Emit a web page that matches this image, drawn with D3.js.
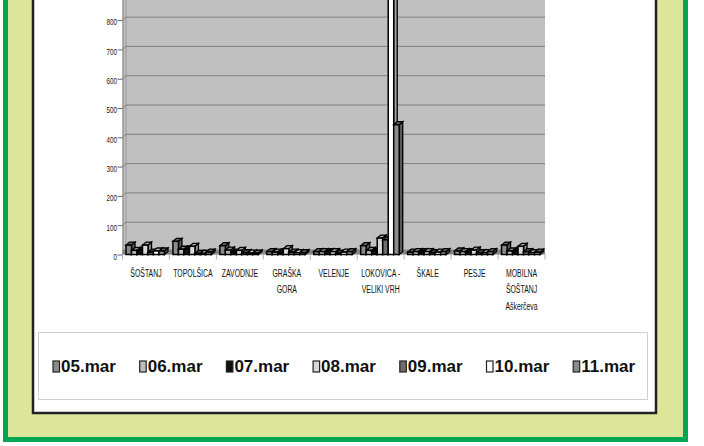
<!DOCTYPE html>
<html>
<head>
<meta charset="utf-8">
<script src="https://cdn.jsdelivr.net/npm/d3@7"></script>
<style>
  html, body { margin: 0; padding: 0; background: #fff; }
  svg { display: block; }
</style>
</head>
<body>
<svg id="chart" width="704" height="446"></svg>
<script>
// categories (stations) - label lines as shown under the axis
const categories = ["ŠOŠTANJ", "TOPOLŠICA", "ZAVODNJE", "GRAŠKA GORA", "VELENJE",
  "LOKOVICA - VELIKI VRH", "ŠKALE", "PESJE", "MOBILNA ŠOŠTANJ Aškerčeva"];
const categoryLines = [["ŠOŠTANJ"], ["TOPOLŠICA"], ["ZAVODNJE"], ["GRAŠKA", "GORA"], ["VELENJE"],
  ["LOKOVICA -", "VELIKI VRH"], ["ŠKALE"], ["PESJE"], ["MOBILNA", "ŠOŠTANJ", "Aškerčeva"]];

// one series per day
const seriesNames = ["05.mar", "06.mar", "07.mar", "08.mar", "09.mar", "10.mar", "11.mar"];
const mar05 = [32, 45, 30, 10, 10, 30, 8, 12, 32];
const mar06 = [14, 18, 15, 8, 10, 14, 10, 10, 12];
const mar07 = [14, 18, 8, 8, 10, 12, 10, 10, 12];
const mar08 = [32, 28, 14, 20, 10, 56, 10, 15, 28];
const mar09 = [8, 4, 6, 8, 5, 50, 6, 6, 10];
const mar10 = [12, 4, 5, 6, 8, 1000, 8, 6, 6];
const mar11 = [12, 8, 5, 6, 10, 443, 10, 10, 8];
const seriesValues = [mar05, mar06, mar07, mar08, mar09, mar10, mar11];

const yTicks = [0, 100, 200, 300, 400, 500, 600, 700, 800];

const seriesColors = ["#8c8c8c", "#bdbdbd", "#111111", "#d9d9d9", "#6e6e6e", "#ffffff", "#8a8a8a"];

function drawChart() {
    const svg = d3.select("#chart");

    // frame: green border, light green band, white panel
    svg.append("rect").attr("x", 3).attr("y", -10).attr("width", 685).attr("height", 452)
        .attr("fill", "#00a651");
    svg.append("rect").attr("x", 8).attr("y", -10).attr("width", 675).attr("height", 447)
        .attr("fill", "#dce69a");
    svg.append("rect").attr("x", 33).attr("y", -10).attr("width", 623).attr("height", 423)
        .attr("fill", "#fff").attr("stroke", "#222").attr("stroke-width", 2.5);

    // scales
    const plotLeft = 122.5, plotRight = 545;
    const y = d3.scaleLinear().domain([0, 900]).range([254.5, -9.2]);
    const x = d3.scaleBand().domain(categories).range([plotLeft, plotRight]).padding(0);
    const xs = d3.scaleBand().domain(seriesNames).range([3.5, 42]).padding(0);
    const dx = 3.5, dy = -3;

    // walls and floor
    svg.append("rect").attr("x", plotLeft).attr("y", -10)
        .attr("width", plotRight - plotLeft).attr("height", y(0) + 10)
        .attr("fill", "#c0c0c0");
    svg.append("line").attr("x1", plotLeft + dx).attr("x2", plotLeft + dx)
        .attr("y1", -10).attr("y2", y(0) + dy)
        .attr("stroke", "#9a9a9a").attr("stroke-width", 1);

    const grid = svg.append("g");
    yTicks.filter(d => d > 0).forEach(d => {
        grid.append("path")
            .attr("d", `M${plotLeft},${y(d)} L${plotLeft + dx},${y(d) + dy} L${plotRight},${y(d) + dy}`)
            .attr("fill", "none").attr("stroke", "#808080").attr("stroke-width", 1);
    });

    svg.append("rect").attr("x", plotLeft).attr("y", y(0) - 5)
        .attr("width", plotRight - plotLeft).attr("height", 5)
        .attr("fill", "#858585");

    // y axis
    const yAxis = svg.append("g")
        .attr("transform", `translate(${plotLeft},0)`)
        .call(d3.axisLeft(y).tickValues(yTicks).tickSize(5).tickSizeOuter(0).tickFormat(d => d));
    yAxis.select(".domain").attr("stroke", "#808080");
    yAxis.selectAll(".tick line").attr("stroke", "#666");
    yAxis.selectAll(".tick text")
        .attr("font-family", "'Liberation Sans', Arial, sans-serif")
        .attr("font-size", 9.6)
        .attr("fill", "#111")
        .attr("x", -8.5)
        .attr("dy", "0.5em")
        .attr("transform", "scale(0.65,1)");

    // category separators
    const sep = svg.append("g");
    categories.concat([null]).forEach((c, i) => {
        const xx = c === null ? plotRight : x(c);
        sep.append("line").attr("x1", xx).attr("x2", xx)
            .attr("y1", y(0)).attr("y2", y(0) + 5)
            .attr("stroke", "#b0b0b0").attr("stroke-width", 1);
    });

    // x labels
    const xl = svg.append("g")
        .attr("font-family", "'Liberation Sans', Arial, sans-serif")
        .attr("font-size", 11.5)
        .attr("fill", "#111");
    categories.forEach((c, i) => {
        const cx = x(c) + x.bandwidth() / 2;
        categoryLines[i].forEach((line, j) => {
            xl.append("text")
                .attr("text-anchor", "middle")
                .attr("transform", `translate(${cx},${276.7 + j * 16.7}) scale(0.6,1)`)
                .text(line);
        });
    });

    // 3D columns, drawn left to right
    const bars = svg.append("g");
    categories.forEach((c, ci) => {
        seriesNames.forEach((s, si) => {
            const v = seriesValues[si][ci];
            const x0 = x(c) + xs(s);
            const w = xs.bandwidth();
            const yt = y(v), yb = y(0);
            const col = d3.color(seriesColors[si]);
            // side face
            bars.append("path")
                .attr("d", `M${x0 + w},${yt} L${x0 + w + dx},${yt + dy} L${x0 + w + dx},${yb + dy} L${x0 + w},${yb} Z`)
                .attr("fill", col.darker(1.2))
                .attr("stroke", "#000").attr("stroke-width", 1.3);
            // top face
            bars.append("path")
                .attr("d", `M${x0},${yt} L${x0 + dx},${yt + dy} L${x0 + w + dx},${yt + dy} L${x0 + w},${yt} Z`)
                .attr("fill", col.darker(0.8))
                .attr("stroke", "#000").attr("stroke-width", 1.3);
            // front face
            bars.append("rect")
                .attr("x", x0).attr("y", yt)
                .attr("width", w).attr("height", yb - yt)
                .attr("fill", seriesColors[si])
                .attr("stroke", "#000").attr("stroke-width", 1.5);
        });
    });

    // legend
    svg.append("rect").attr("x", 38.5).attr("y", 332.5).attr("width", 609).attr("height", 67)
        .attr("fill", "#fff").attr("stroke", "#d0d0d0").attr("stroke-width", 1);
    const legend = svg.append("g");
    seriesNames.forEach((s, i) => {
        const lx = 53 + i * 86.7;
        legend.append("rect")
            .attr("x", lx).attr("y", 361).attr("width", 6.5).attr("height", 11)
            .attr("fill", seriesColors[i]).attr("stroke", "#222").attr("stroke-width", 1.2);
        legend.append("text")
            .attr("x", lx + 8).attr("y", 372)
            .attr("font-family", "'Liberation Sans', Arial, sans-serif")
            .attr("font-weight", "bold")
            .attr("font-size", 17)
            .attr("fill", "#111")
            .text(s);
    });
}

document.addEventListener('DOMContentLoaded', () => {
    drawChart();
});
</script>
</body>
</html>
